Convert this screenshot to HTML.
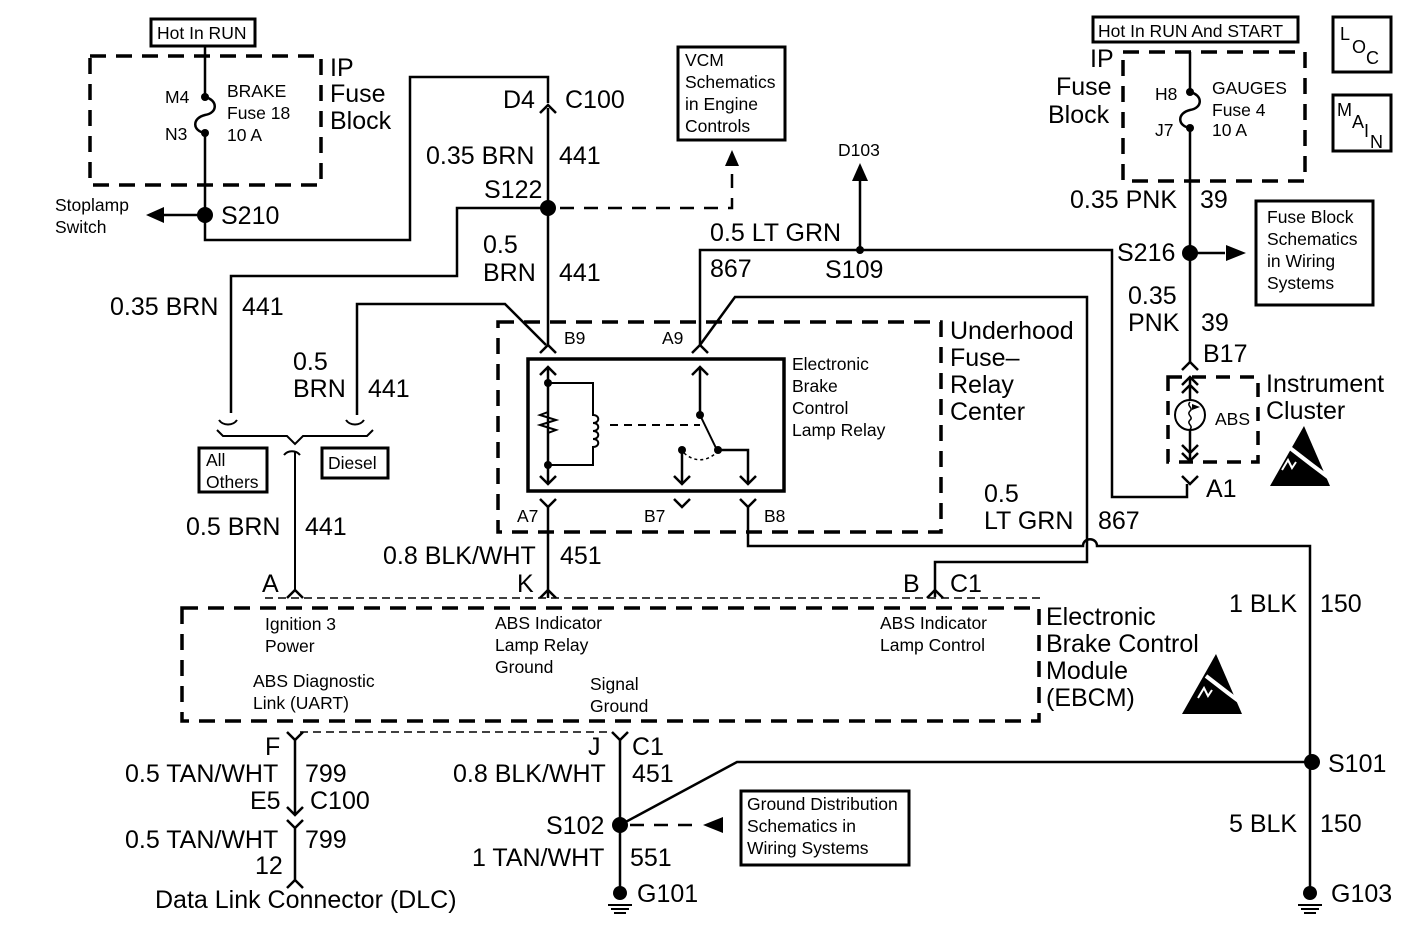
<!DOCTYPE html>
<html><head><meta charset="utf-8"><style>
html,body{margin:0;padding:0;background:#fff;}
svg{display:block;}
text{font-family:"Liberation Sans",Arial,sans-serif;fill:#000;}
.b{font-size:25px;}
.m{font-size:17.5px;}
.s{font-size:18px;}
</style></head><body>
<svg width="1426" height="933" viewBox="0 0 1426 933" xmlns="http://www.w3.org/2000/svg">
<g fill="none" stroke="#000" stroke-width="2.5">
<rect x="151" y="19" width="104" height="27" stroke-width="3"/>
<rect x="90" y="56" width="231" height="129" stroke-width="3.5" stroke-dasharray="16,10"/>
<path d="M205,46 V97 c13,3 13,16 0,18 c-13,3 -13,16 0,18 V240 H410 V77 H548 V103"/>
<path d="M540,113 l8,-8 l8,8"/>
<path d="M548,108 V345"/>
<path d="M205,215 H160"/>
<path d="M548,208 H457 V276 H231 V413"/>
<path d="M357,415 V304 H505 L546,345"/>
<path d="M219,420 c4,6 14,6 18,0 M346,420 c4,6 14,6 18,0" stroke-width="2"/>
<path d="M217,430 l6,6 H287 l8,8 l8,-8 H367 l6,-6" stroke-width="2"/>
<path d="M284,455 c4,-5 12,-5 16,0 M295,452 V590" stroke-width="2"/>
<rect x="199" y="448" width="68" height="44" stroke-width="3"/>
<rect x="322" y="448" width="66" height="30" stroke-width="3"/>
<rect x="678" y="47" width="107" height="93" stroke-width="3"/>
<path d="M560,208 H732 V170" stroke-dasharray="14,10"/>
<rect x="498" y="322" width="443" height="210" stroke-width="3.5" stroke-dasharray="16,10"/>
<rect x="528" y="359" width="256" height="132" stroke-width="3.5"/>
<path d="M540,353 l8,-8 l8,8 M692,353 l8,-8 l8,8"/>
<path d="M548,367 V484 M540,375 l8,-8 l8,8 M540,476 l8,8 l8,-8"/>
<path d="M548,383 H593 V415 c7,0 7,8 0,8 c7,0 7,8 0,8 c7,0 7,8 0,8 c7,0 7,8 0,8 V465 H548" stroke-width="2"/>
<path d="M548,400 V412 l-8,3 l16,5 l-16,5 l16,5 l-8,3 V445" stroke-width="2"/>
<path d="M610,425 H700" stroke-width="2" stroke-dasharray="8,6"/>
<path d="M700,367 V415 M692,375 l8,-8 l8,8" />
<path d="M700,415 L716,448" stroke-width="2"/>
<path d="M718,450 H748 V484 M740,476 l8,8 l8,-8"/>
<path d="M682,450 V484 M674,476 l8,8 l8,-8"/>
<path d="M684,453 c10,9 22,9 32,0" stroke-width="1.5" stroke-dasharray="3,3"/>
<path d="M540,499 l8,8 l8,-8 M674,499 l8,8 l8,-8 M740,499 l8,8 l8,-8"/>
<path d="M548,507 V598 M748,507 V546 H1083 c0,-9 14,-9 14,0 H1310 V893"/>
<path d="M700,345 V250 H1112 V497 H1187 V484"/>
<path d="M700,345 L735,297 H1087 V562 H935 V597"/>
<path d="M860,250 V175"/>
<rect x="1093" y="17" width="205" height="25" stroke-width="3"/>
<rect x="1123" y="52" width="182" height="129" stroke-width="3.5" stroke-dasharray="16,10"/>
<path d="M1190,52 V92 c13,3 13,16 0,18 c-13,3 -13,16 0,18 V362"/>
<path d="M1190,253 H1225"/>
<rect x="1256" y="201" width="117" height="104" stroke-width="3"/>
<path d="M1182,370 l8,-8 l8,8 M1182,385 l8,-8 l8,8 M1182,393 l8,-8 l8,8 M1190,378 V400 M1190,430 V460 M1182,445 l8,8 l8,-8 M1182,453 l8,8 l8,-8 M1182,476 l8,8 l8,-8"/>
<circle cx="1190" cy="415" r="15" stroke-width="2"/>
<path d="M1190,402 c-4,4 4,6 0,9 c-4,4 4,6 0,9 c-4,4 4,6 0,9" stroke-width="1.5"/>
<rect x="1168" y="377" width="90" height="85" stroke-width="3.5" stroke-dasharray="14,10"/>
<rect x="1333" y="17" width="58" height="55" stroke-width="3"/>
<rect x="1333" y="95" width="58" height="56" stroke-width="3"/>
<rect x="182" y="608" width="857" height="113" stroke-width="3.5" stroke-dasharray="16,10"/>
<path d="M265,598 H1040" stroke-width="1.5" stroke-dasharray="8,5"/>
<path d="M287,598 l8,-8 l8,8 M540,598 l8,-8 l8,8 M927,598 l8,-8 l8,8" />
<path d="M287,732 l8,8 l8,-8 M612,732 l8,8 l8,-8"/>
<path d="M300,732 H612" stroke-width="1.5" stroke-dasharray="8,5"/>
<path d="M295,740 V815 M287,807 l8,8 l8,-8 M287,820 l8,8 l8,-8 M295,828 V880 M287,888 l8,-8 l8,8"/>
<path d="M620,740 V893"/>
<path d="M620,825 L737,762 H1310" />
<path d="M630,825 H700" stroke-dasharray="14,10"/>
<rect x="741" y="791" width="168" height="74" stroke-width="3"/>
<path d="M608,905 H632 M611,909 H629 M614,913 H626 M1298,905 H1322 M1301,909 H1319 M1304,913 H1316" stroke-width="2"/>
</g>
<g fill="#000">
<circle cx="205" cy="97" r="4"/><circle cx="205" cy="133" r="4"/>
<circle cx="1190" cy="92" r="4"/><circle cx="1190" cy="128" r="4"/>
<circle cx="205" cy="215" r="8"/><circle cx="548" cy="208" r="8"/>
<circle cx="860" cy="250" r="4"/><circle cx="1190" cy="253" r="8"/>
<circle cx="548" cy="383" r="4"/><circle cx="548" cy="465" r="4"/>
<circle cx="700" cy="415" r="4"/><circle cx="718" cy="450" r="4"/><circle cx="682" cy="450" r="4"/>
<circle cx="620" cy="825" r="8"/><circle cx="1312" cy="762" r="8"/>
<circle cx="620" cy="893" r="7"/><circle cx="1310" cy="893" r="7"/>
<path d="M146,215 l18,-8 v16z"/>
<path d="M732,150 l-7,16 h14z"/>
<path d="M860,163 l-8,18 h16z"/>
<path d="M1246,253 l-20,-8 v16z"/>
<path d="M703,825 l20,-8 v16z"/>
<path d="M1200,407 l-8,-3 v6z"/>
<!-- ESD symbols -->
<path d="M1304,426 L1270,486 H1330 Z"/>
<path d="M1186,654 L1152,714 H1212 Z" transform="translate(30,0)"/>
</g>
<g stroke="#fff" stroke-width="4" fill="none">
<path d="M1290,448 L1312,465 L1332,480"/>
<path d="M1206,676 L1228,693 L1248,708"/>
</g>
<g stroke="#fff" stroke-width="2" fill="none">
<path d="M1282,470 l6,-10 l4,8 l4,-6"/>
<path d="M1198,698 l6,-10 l4,8 l4,-6"/>
</g>
<g>
<text x="157" y="39" class="m">Hot In RUN</text>
<text x="165" y="103" class="m">M4</text><text x="165" y="140" class="m">N3</text>
<text x="227" y="97" class="m">BRAKE</text><text x="227" y="119" class="m">Fuse 18</text><text x="227" y="141" class="m">10 A</text>
<text x="330" y="76" class="b">IP</text><text x="330" y="102" class="b">Fuse</text><text x="330" y="129" class="b">Block</text>
<text x="55" y="211" class="m">Stoplamp</text><text x="55" y="233" class="m">Switch</text>
<text x="221" y="224" class="b">S210</text>
<text x="503" y="108" class="b">D4</text><text x="565" y="108" class="b">C100</text>
<text x="426" y="164" class="b">0.35 BRN</text><text x="559" y="164" class="b">441</text>
<text x="484" y="198" class="b">S122</text>
<text x="483" y="253" class="b">0.5</text><text x="483" y="281" class="b">BRN</text><text x="559" y="281" class="b">441</text>
<text x="110" y="315" class="b">0.35 BRN</text><text x="242" y="315" class="b">441</text>
<text x="293" y="370" class="b">0.5</text><text x="293" y="397" class="b">BRN</text><text x="368" y="397" class="b">441</text>
<text x="206" y="466" class="m">All</text><text x="206" y="488" class="m">Others</text>
<text x="328" y="469" class="m">Diesel</text>
<text x="186" y="535" class="b">0.5 BRN</text><text x="305" y="535" class="b">441</text>
<text x="685" y="66" class="m">VCM</text><text x="685" y="88" class="m">Schematics</text><text x="685" y="110" class="m">in Engine</text><text x="685" y="132" class="m">Controls</text>
<text x="838" y="156" class="m">D103</text>
<text x="710" y="241" class="b">0.5 LT GRN</text>
<text x="710" y="277" class="b">867</text><text x="825" y="278" class="b">S109</text>
<text x="564" y="344" class="m">B9</text><text x="662" y="344" class="m">A9</text>
<text x="792" y="370" class="m">Electronic</text><text x="792" y="392" class="m">Brake</text><text x="792" y="414" class="m">Control</text><text x="792" y="436" class="m">Lamp Relay</text>
<text x="950" y="339" class="b">Underhood</text><text x="950" y="366" class="b">Fuse–</text><text x="950" y="393" class="b">Relay</text><text x="950" y="420" class="b">Center</text>
<text x="517" y="522" class="m">A7</text><text x="644" y="522" class="m">B7</text><text x="764" y="522" class="m">B8</text>
<text x="984" y="502" class="b">0.5</text><text x="984" y="529" class="b">LT GRN</text><text x="1098" y="529" class="b">867</text>
<text x="383" y="564" class="b">0.8 BLK/WHT</text><text x="560" y="564" class="b">451</text>
<text x="262" y="592" class="b">A</text><text x="517" y="592" class="b">K</text>
<text x="903" y="592" class="b">B</text><text x="950" y="592" class="b">C1</text>
<text x="1098" y="37" class="m">Hot In RUN And START</text>
<text x="1090" y="67" class="b">IP</text><text x="1056" y="95" class="b">Fuse</text><text x="1048" y="123" class="b">Block</text>
<text x="1155" y="100" class="m">H8</text><text x="1155" y="136" class="m">J7</text>
<text x="1212" y="94" class="m">GAUGES</text><text x="1212" y="116" class="m">Fuse 4</text><text x="1212" y="136" class="m">10 A</text>
<text x="1070" y="208" class="b">0.35 PNK</text><text x="1200" y="208" class="b">39</text>
<text x="1117" y="261" class="b">S216</text>
<text x="1267" y="223" class="m">Fuse Block</text><text x="1267" y="245" class="m">Schematics</text><text x="1267" y="267" class="m">in Wiring</text><text x="1267" y="289" class="m">Systems</text>
<text x="1128" y="304" class="b">0.35</text><text x="1128" y="331" class="b">PNK</text><text x="1201" y="331" class="b">39</text>
<text x="1203" y="362" class="b">B17</text>
<text x="1215" y="425" class="m">ABS</text>
<text x="1266" y="392" class="b">Instrument</text><text x="1266" y="419" class="b">Cluster</text>
<text x="1206" y="497" class="b">A1</text>
<text x="1340" y="40" class="s">L</text><text x="1352" y="53" class="s">O</text><text x="1366" y="64" class="s">C</text>
<text x="1337" y="116" class="s">M</text><text x="1352" y="128" class="s">A</text><text x="1364" y="137" class="s">I</text><text x="1370" y="148" class="s">N</text>
<text x="1229" y="612" class="b">1 BLK</text><text x="1320" y="612" class="b">150</text>
<text x="265" y="630" class="m">Ignition 3</text><text x="265" y="652" class="m">Power</text>
<text x="495" y="629" class="m">ABS Indicator</text><text x="495" y="651" class="m">Lamp Relay</text><text x="495" y="673" class="m">Ground</text>
<text x="880" y="629" class="m">ABS Indicator</text><text x="880" y="651" class="m">Lamp Control</text>
<text x="253" y="687" class="m">ABS Diagnostic</text><text x="253" y="709" class="m">Link (UART)</text>
<text x="590" y="690" class="m">Signal</text><text x="590" y="712" class="m">Ground</text>
<text x="1046" y="625" class="b">Electronic</text><text x="1046" y="652" class="b">Brake Control</text><text x="1046" y="679" class="b">Module</text><text x="1046" y="706" class="b">(EBCM)</text>
<text x="265" y="755" class="b">F</text><text x="588" y="755" class="b">J</text><text x="632" y="755" class="b">C1</text>
<text x="125" y="782" class="b">0.5 TAN/WHT</text><text x="305" y="782" class="b">799</text>
<text x="453" y="782" class="b">0.8 BLK/WHT</text><text x="632" y="782" class="b">451</text>
<text x="1328" y="772" class="b">S101</text>
<text x="250" y="809" class="b">E5</text><text x="310" y="809" class="b">C100</text>
<text x="747" y="810" class="m">Ground Distribution</text><text x="747" y="832" class="m">Schematics in</text><text x="747" y="854" class="m">Wiring Systems</text>
<text x="546" y="834" class="b">S102</text>
<text x="1229" y="832" class="b">5 BLK</text><text x="1320" y="832" class="b">150</text>
<text x="125" y="848" class="b">0.5 TAN/WHT</text><text x="305" y="848" class="b">799</text>
<text x="472" y="866" class="b">1 TAN/WHT</text><text x="630" y="866" class="b">551</text>
<text x="255" y="874" class="b">12</text>
<text x="155" y="908" class="b">Data Link Connector (DLC)</text>
<text x="637" y="902" class="b">G101</text><text x="1331" y="902" class="b">G103</text>
</g>
</svg>
</body></html>
